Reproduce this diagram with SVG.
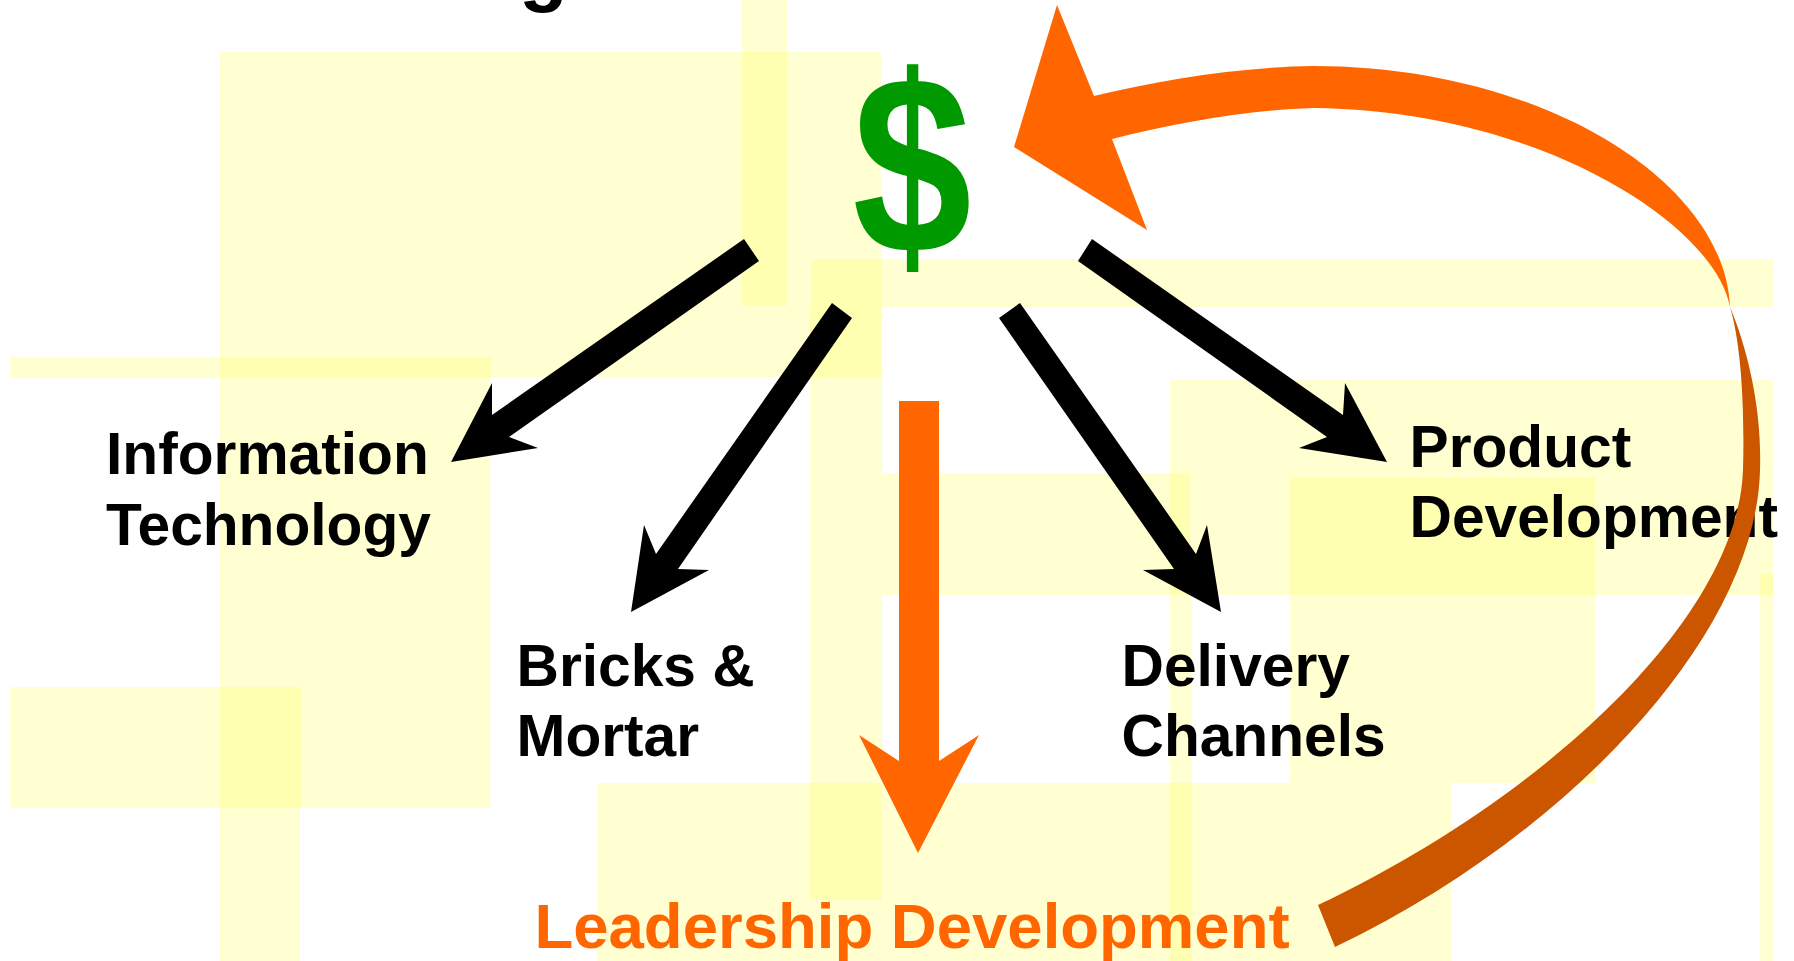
<svg xmlns="http://www.w3.org/2000/svg" width="1794" height="961" viewBox="0 0 1794 961">
  <style>
    .bg { fill: #ffff66; fill-opacity: 0.3; }
    .lbl { font-family: "Liberation Sans", Arial, sans-serif; font-weight: bold; font-size: 58.7px; fill: #000000; }
    .blk { fill: #000000; }
    .org { fill: #ff6600; }
    .drk { fill: #cc5500; }
  </style>
  <rect x="0" y="0" width="1794" height="961" fill="#ffffff"/>
  <g id="background">
    <rect class="bg" x="742" y="0" width="45" height="306"/>
    <rect class="bg" x="220" y="52" width="661" height="325"/>
    <rect class="bg" x="10" y="357" width="481" height="21"/>
    <rect class="bg" x="220" y="377" width="270" height="431"/>
    <rect class="bg" x="10" y="687" width="291" height="121"/>
    <rect class="bg" x="220" y="808" width="80" height="153"/>
    <rect class="bg" x="811" y="259" width="962" height="48"/>
    <rect class="bg" x="810" y="307" width="72" height="593"/>
    <rect class="bg" x="882" y="473" width="308" height="122"/>
    <rect class="bg" x="1170" y="380" width="603" height="215"/>
    <rect class="bg" x="1170" y="595" width="22" height="366"/>
    <rect class="bg" x="1290" y="477" width="305" height="306"/>
    <rect class="bg" x="597" y="783" width="854" height="178"/>
    <rect class="bg" x="1760" y="574" width="13" height="387"/>
  </g>
  <g id="title-fragment">
    <text class="lbl" x="519" y="-4" style="font-size:80px">g</text>
  </g>
  <g id="node-money">
    <text x="912" y="248" text-anchor="middle" transform="translate(912,168.5) scale(0.9,1.065) translate(-912,-168.5)" style="font-family:'Liberation Sans', Arial, sans-serif; font-weight:bold; font-size:238px; fill:#009900">$</text>
  </g>
  <g id="node-it">
    <text class="lbl" x="106" y="474">Information</text>
    <text class="lbl" x="106" y="545">Technology</text>
  </g>
  <g id="node-bricks">
    <text class="lbl" x="516.5" y="686">Bricks &amp;</text>
    <text class="lbl" x="516.5" y="756">Mortar</text>
  </g>
  <g id="node-delivery">
    <text class="lbl" x="1121.5" y="686">Delivery</text>
    <text class="lbl" x="1121.5" y="756">Channels</text>
  </g>
  <g id="node-product">
    <text class="lbl" x="1409.5" y="467">Product</text>
    <text class="lbl" x="1409.5" y="537">Development</text>
  </g>
  <g id="node-leadership">
    <text x="912" y="948" text-anchor="middle" style="font-family:'Liberation Sans', Arial, sans-serif; font-weight:bold; font-size:63.5px; fill:#ff6600">Leadership Development</text>
  </g>
  <g id="connectors">
    <polygon class="blk" points="744,239 492,415 492,383 451,462 538,448 509,437 759,261"/>
    <polygon class="blk" points="832,303 656,554 644,525 631,612 709,570 678,569 852,318"/>
    <polygon class="blk" points="1020,303 1196,554 1207,525 1221,612 1143,570 1174,569 999,318"/>
    <polygon class="blk" points="1092,239 1343,415 1345,383 1387,462 1299,448 1327,437 1078,261"/>
    <polygon class="org" points="899,401 939,401 939,761 979,735 918,853 859,735 899,761"/>
    <path class="org" d="M1057,5 L1094,96 C1160,80 1240,67 1313,66 C1540,66 1725,180 1730,307 C1715,225 1540,110 1313,108 C1250,110 1180,122 1112,139 L1147,230 L1014,147 Z"/>
    <path class="drk" d="M1730,307 C1748,350 1762,410 1760,470 C1756,640 1560,840 1335,947 L1318,905 C1540,800 1738,620 1743,470 C1745,400 1740,340 1730,307 Z"/>
  </g>
</svg>
